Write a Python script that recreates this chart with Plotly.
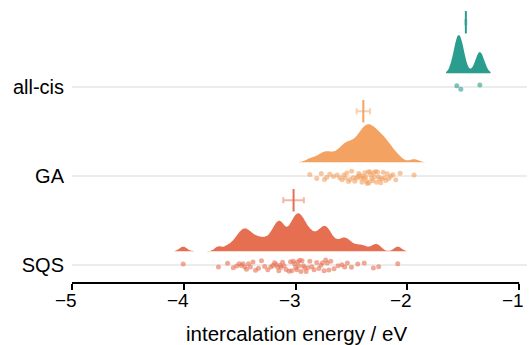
import plotly.graph_objects as go

# ---------------- data ----------------
categories = ["SQS", "GA", "all-cis"]
colors = ["#e76f51", "#f4a261", "#2a9d8f"]

sqs_energy = [
    -4.005,
    -3.690, -3.608, -3.557, -3.527, -3.505, -3.485, -3.470, -3.454,
    -3.439, -3.422, -3.404, -3.381, -3.358, -3.332, -3.305, -3.277,
    -3.249, -3.221, -3.204, -3.188, -3.174, -3.162, -3.150, -3.138,
    -3.130, -3.117, -3.103, -3.085, -3.058, -3.045, -3.034, -3.020,
    -3.010, -2.999, -2.990, -2.980, -2.972, -2.963, -2.952, -2.942,
    -2.931, -2.919, -2.906, -2.890, -2.873, -2.855, -2.835, -2.811,
    -2.792, -2.774, -2.759, -2.745, -2.731, -2.717, -2.703, -2.685,
    -2.656, -2.620, -2.585, -2.561, -2.537, -2.500, -2.444, -2.386,
    -2.304, -2.257,
    -2.086,
]
ga_energy = [
    -2.873, -2.811, -2.770, -2.742, -2.720, -2.694, -2.661, -2.628,
    -2.605, -2.585, -2.568, -2.555, -2.542, -2.527, -2.513, -2.499,
    -2.484, -2.471, -2.456, -2.444, -2.434, -2.423, -2.414, -2.405,
    -2.397, -2.388, -2.380, -2.373, -2.365, -2.358, -2.350, -2.343,
    -2.335, -2.328, -2.320, -2.311, -2.303, -2.295, -2.286, -2.276,
    -2.268, -2.259, -2.248, -2.238, -2.228, -2.217, -2.205, -2.192,
    -2.181, -2.165, -2.149, -2.130, -2.104, -2.065, -1.940,
]
allcis_energy = [-1.558, -1.522, -1.352]

mean_energy = [-3.018, -2.394, -1.477]
mean_err = [0.092, 0.06, 0.004]
bandwidths = [0.034, 0.04, 0.04]
jitters = [0.2, 0.2, 0.08]

x_tickvals = [-5, -4, -3, -2, -1]
x_ticktext = ["\u22125", "\u22124", "\u22123", "\u22122", "\u22121"]
x_range = [-5, -0.93]
x_title = "intercalation energy / eV"

samples = [sqs_energy, ga_energy, allcis_energy]

# ---------------- figure ----------------
FONT = "Liberation Sans, Helvetica, Arial, sans-serif"
fig = go.Figure()

VIOLIN_OFF = 0.157
VIOLIN_W = 0.854
MEAN_OFF = 0.73

for i, (cat, col, vals) in enumerate(zip(categories, colors, samples)):
    bw = bandwidths[i]
    fig.add_trace(go.Violin(
        x=vals, y0=i + VIOLIN_OFF, orientation="h", side="positive",
        width=VIOLIN_W, bandwidth=bw, scalemode="width",
        spanmode="manual", span=[min(vals) - 2.4 * bw, max(vals) + 2.4 * bw],
        line=dict(width=0, color=col), fillcolor=col, opacity=1,
        points="all", pointpos=-0.37, jitter=jitters[i],
        marker=dict(size=5, color=col, opacity=0.6, line=dict(width=0)),
        box_visible=False, meanline_visible=False, showlegend=False,
        hoverinfo="skip",
    ))

for i, col in enumerate(colors):
    r, g, b = int(col[1:3], 16), int(col[3:5], 16), int(col[5:7], 16)
    fig.add_trace(go.Scatter(
        x=[mean_energy[i]], y=[i + MEAN_OFF], mode="markers",
        marker=dict(symbol="line-ns", size=16, color=col,
                    line=dict(width=2, color=col)),
        error_x=dict(type="data", array=[mean_err[i]], color=f"rgba({r},{g},{b},0.5)",
                     thickness=2, width=3),
        showlegend=False, hoverinfo="skip",
    ))

# trimmed bottom spine (from first to last tick)
fig.add_shape(type="line", xref="x", yref="paper",
              x0=x_tickvals[0], x1=x_tickvals[-1], y0=0, y1=0,
              line=dict(color="black", width=2), layer="above")

# x tick labels
for v, t in zip(x_tickvals, x_ticktext):
    fig.add_annotation(x=v, xref="x", y=0, yref="paper", text=t,
                       showarrow=False, xanchor="center", yanchor="middle",
                       xshift=-6, yshift=-17, font=dict(size=19))
# x axis title
fig.add_annotation(x=0.493, xref="paper", y=0, yref="paper", text=x_title,
                   showarrow=False, xanchor="center", yanchor="middle",
                   yshift=-50, borderpad=0, font=dict(size=20.5))

fig.update_layout(
    width=529, height=345,
    margin=dict(l=72, r=2, t=0, b=62),
    paper_bgcolor="white", plot_bgcolor="white",
    font=dict(family=FONT, size=18, color="black"),
    violingap=0, violinmode="overlay",
)
fig.update_xaxes(
    range=x_range, tickvals=x_tickvals, showticklabels=False,
    ticks="outside", ticklen=6, tickwidth=2, tickcolor="black",
    showline=False, showgrid=False, zeroline=False, automargin=False,
)
fig.update_yaxes(
    range=[-0.2, 2.98], tickvals=[0, 1, 2], ticktext=categories,
    showgrid=True, gridcolor="#ececec", gridwidth=2,
    showline=False, zeroline=False, ticks="", ticklabelstandoff=7,
    tickfont=dict(size=20), automargin=False,
)

fig.write_html("out.html")
